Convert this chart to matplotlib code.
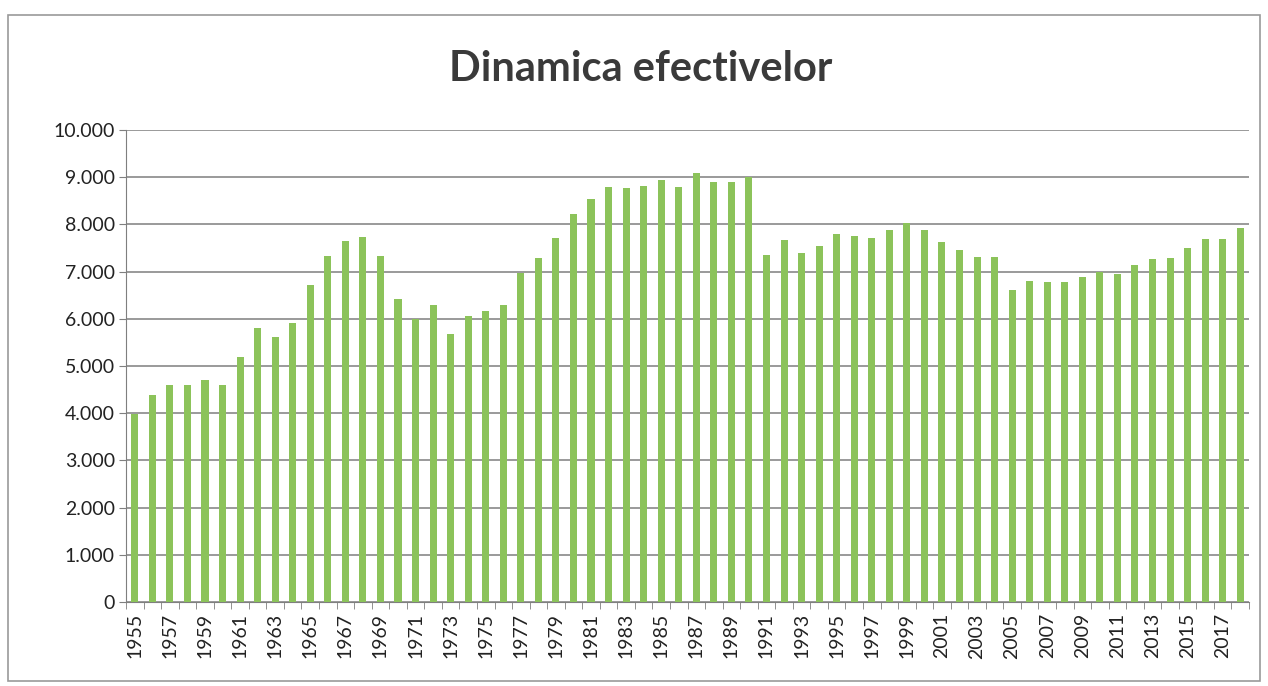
import matplotlib
matplotlib.use('Agg')
import matplotlib.pyplot as plt
from matplotlib.patches import Rectangle
from matplotlib.ticker import FuncFormatter, MultipleLocator

ani = list(range(1955, 2019))
efective = [3980, 4380, 4600, 4600, 4700, 4600, 5200, 5800, 5610, 5910,
            6720, 7330, 7640, 7740, 7340, 6430, 6000, 6300, 5680, 6050,
            6160, 6300, 6960, 7280, 7720, 8230, 8530, 8800, 8780, 8810,
            8950, 8800, 9090, 8900, 8900, 9000, 7350, 7680, 7390, 7540,
            7790, 7750, 7710, 7890, 8030, 7890, 7620, 7450, 7310, 7310,
            6620, 6810, 6770, 6790, 6890, 6990, 6940, 7130, 7270, 7280,
            7500, 7700, 7700, 7930]
etichete_x = [str(a) if (a - 1955) % 2 == 0 else '' for a in ani]

plt.rcParams['font.family'] = ['Lato', 'DejaVu Sans']

fig = plt.figure(figsize=(12.68, 6.86), dpi=100)
ax = fig.add_axes([0.0994, 0.1224, 0.8856, 0.6881])

poz = list(range(len(ani)))
ax.bar(poz, efective, width=0.4, color='#8cc35a', zorder=3)

ax.set_xlim(-0.5, len(ani) - 0.5)
ax.set_ylim(0, 10000)
ax.yaxis.set_major_locator(MultipleLocator(1000))
ax.yaxis.set_major_formatter(FuncFormatter(lambda v, p: f'{int(v):,}'.replace(',', '.')))
ax.grid(axis='y', color='#7f7f7f', linewidth=1.1, zorder=0)

ax.set_xticks(poz)
ax.set_xticklabels(etichete_x, rotation=90, fontsize=14, color='#222222')
ax.set_xticks([p - 0.5 for p in poz] + [len(ani) - 0.5], minor=True)
ax.tick_params(axis='x', which='major', length=0, pad=8)
ax.tick_params(axis='x', which='minor', length=5, color='#7f7f7f', direction='out')
ax.tick_params(axis='y', length=5, color='#7f7f7f', labelsize=14, labelcolor='#222222', pad=3)

for s in ['top', 'right']:
    ax.spines[s].set_visible(False)
ax.spines['left'].set_color('#7f7f7f')
ax.spines['bottom'].set_color('#7f7f7f')

fig.text(0.505, 0.9, 'Dinamica efectivelor', ha='center', va='center',
         fontsize=30, fontweight='bold', color='#3a3a3a')

fig.patches.append(Rectangle((0.006, 0.008), 0.988, 0.97, transform=fig.transFigure,
                             fill=False, edgecolor='#9a9a9a', linewidth=1.2))

fig.savefig('out.png', dpi=100)
